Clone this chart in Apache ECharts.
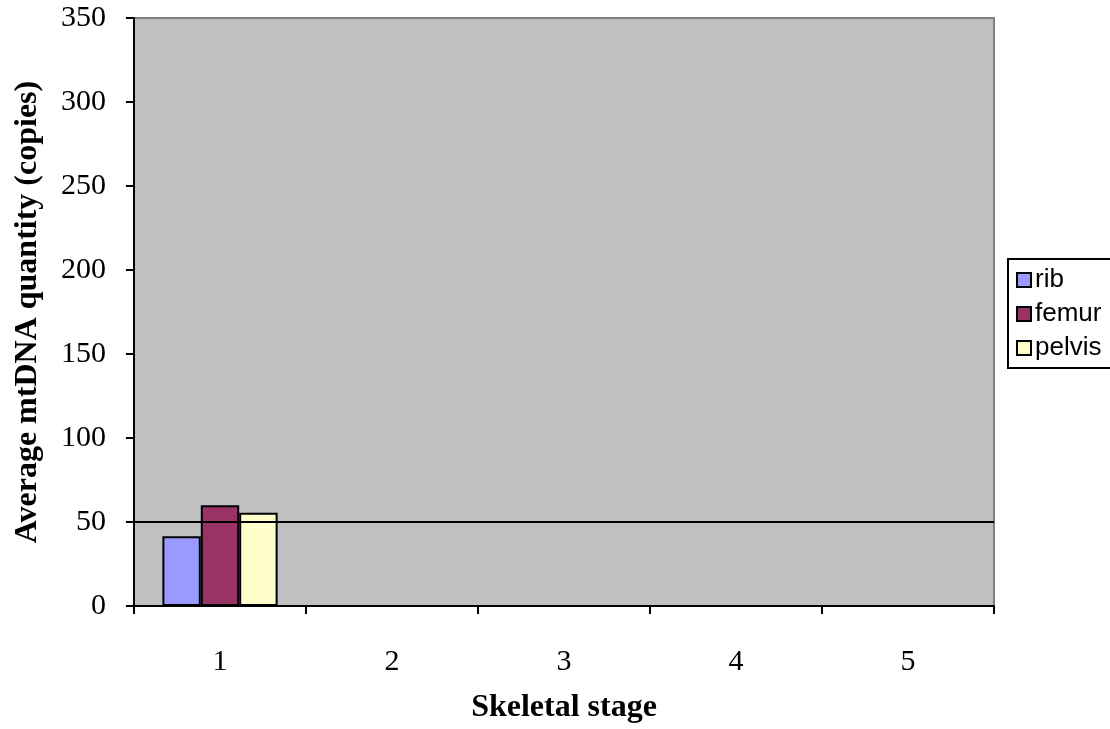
<!DOCTYPE html>
<html>
<head>
<meta charset="utf-8">
<script src="https://cdn.jsdelivr.net/npm/echarts@6/dist/echarts.min.js"></script>
<style>
  html, body { margin: 0; padding: 0; background: #ffffff; overflow: hidden; }
  #chart { width: 1110px; height: 729px; }
</style>
</head>
<body>
<div id="chart"></div>
<script>
// Skeletal stages on the category axis
const stages = ['1', '2', '3', '4', '5'];
// Average mtDNA copies per bone type (only stage 1 measured)
const rib = [41.5, null, null, null, null];
const femur = [60, null, null, null, null];
const pelvis = [55.5, null, null, null, null];
// Reference level drawn across the plot
const referenceLevel = 50;

const serif = '"Liberation Serif", "Times New Roman", serif';
const sans = '"Liberation Sans", Arial, sans-serif';

const chart = echarts.init(document.getElementById('chart'));

function barSeries(name, data, color) {
  return {
    name: name,
    type: 'bar',
    z: 3,
    data: data,
    barGap: '0%',
    barCategoryGap: '33%',
    itemStyle: { color: color, borderColor: '#000', borderWidth: 2 }
  };
}

chart.setOption({
  animation: false,
  grid: {
    left: 134, top: 18, right: 116, bottom: 123,
    show: true,
    backgroundColor: '#c0c0c0',
    borderColor: '#808080',
    borderWidth: 2
  },
  legend: {
    orient: 'vertical',
    left: 1008,
    top: 259,
    data: ['rib', 'femur', 'pelvis'],
    icon: 'rect',
    itemWidth: 14,
    itemHeight: 14,
    itemGap: 8,
    padding: [8, 60, 7, 8],
    backgroundColor: '#ffffff',
    borderColor: '#000',
    borderWidth: 2,
    borderRadius: 0,
    textStyle: { fontFamily: sans, fontSize: 26, color: '#000', padding: [0, 0, 0, -1] },
    itemStyle: { borderColor: '#000', borderWidth: 2 }
  },
  xAxis: {
    type: 'category',
    data: stages,
    name: 'Skeletal stage',
    nameLocation: 'middle',
    nameGap: 86,
    nameTextStyle: { fontFamily: serif, fontSize: 32, fontWeight: 'bold', color: '#000' },
    axisLine: { lineStyle: { color: '#000', width: 2 } },
    axisTick: { show: true, length: 8, lineStyle: { color: '#000', width: 2 } },
    axisLabel: { fontFamily: serif, fontSize: 30, color: '#000', margin: 41 },
    splitLine: { show: false }
  },
  yAxis: {
    type: 'value',
    min: 0, max: 350, interval: 50,
    name: 'Average mtDNA quantity (copies)',
    nameLocation: 'middle',
    nameGap: 90,
    nameTextStyle: { fontFamily: serif, fontSize: 32, fontWeight: 'bold', color: '#000' },
    axisLine: { show: true, lineStyle: { color: '#000', width: 2 } },
    axisTick: { show: true, length: 8, lineStyle: { color: '#000', width: 2 } },
    axisLabel: { fontFamily: serif, fontSize: 30, color: '#000', margin: 28 },
    splitLine: { show: false }
  },
  series: [
    // horizontal reference line, kept beneath the bars
    {
      name: 'level',
      type: 'line',
      z: 1,
      data: [],
      markLine: {
        silent: true,
        symbol: ['none', 'none'],
        label: { show: false },
        lineStyle: { color: '#000', width: 2, type: 'solid' },
        data: [{ yAxis: referenceLevel }]
      }
    },
    barSeries('rib', rib, '#9999ff'),
    barSeries('femur', femur, '#993366'),
    barSeries('pelvis', pelvis, '#ffffcc')
  ]
});
</script>
</body>
</html>
